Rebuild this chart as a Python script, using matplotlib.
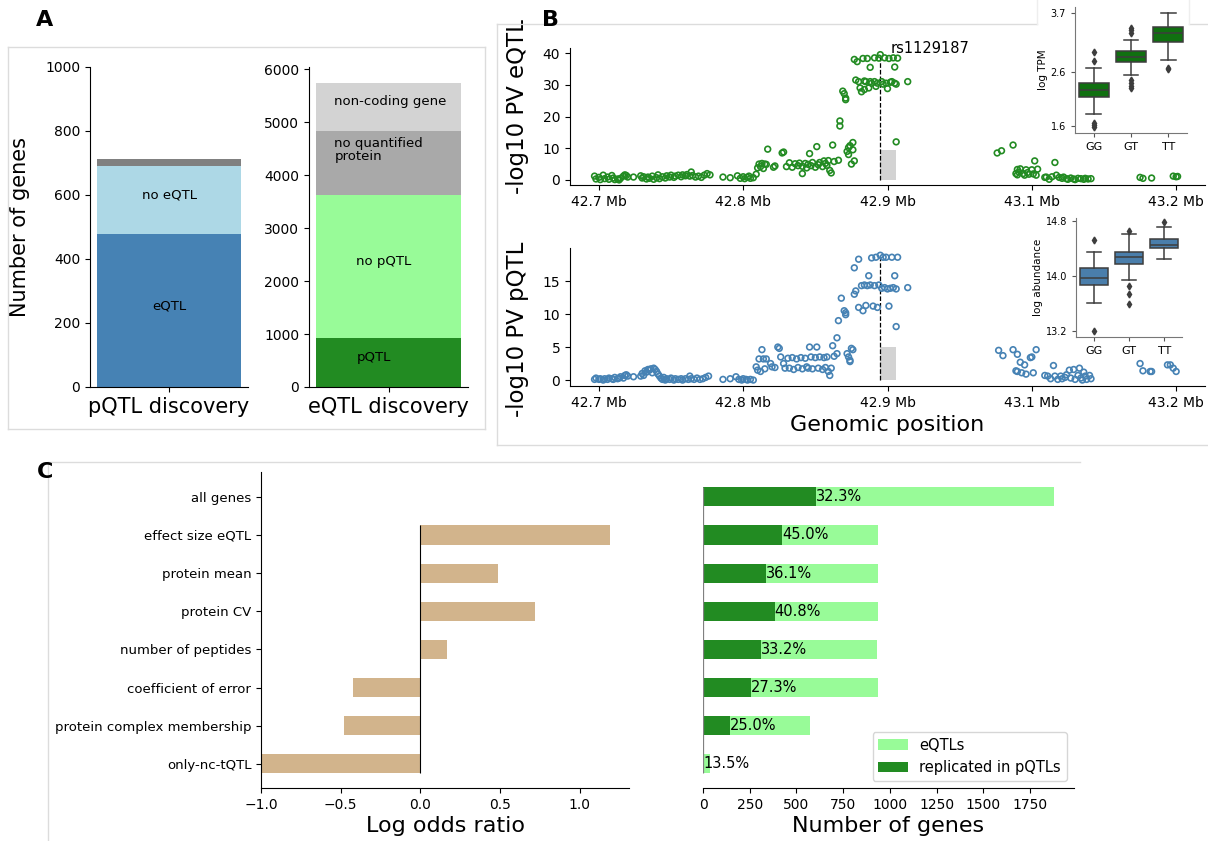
import numpy as np
import matplotlib.pyplot as plt
from matplotlib.lines import Line2D

# ---- panel A: stacked counts ----
pqtl_groups = ['eQTL', 'no eQTL', 'other']
pqtl_counts = [478, 213, 20]
eqtl_groups = ['pQTL', 'no pQTL', 'no quantified\nprotein', 'non-coding gene']
eqtl_counts = [930, 2700, 1210, 900]

# ---- panel B: locus plots (position in Mb, -log10 p) ----
locus_ticks = [42.7, 42.8, 42.9, 43.0, 43.1]
locus_labels = ['42.7 Mb', '42.8 Mb', '42.9 Mb', '43.1 Mb', '43.2 Mb']
lead_snp = 'rs1129187'
lead_pos = 42.895
gene_start, gene_end = 42.895, 42.906

eqtl_pos = [42.697, 42.698, 42.700, 42.701, 42.703, 42.704, 42.706, 42.707, 42.709, 42.710,
            42.711, 42.713, 42.714, 42.715, 42.717, 42.718, 42.719, 42.720, 42.724,
            42.729, 42.730, 42.731, 42.733, 42.734, 42.735, 42.737, 42.738, 42.740, 42.741,
            42.742, 42.744, 42.746, 42.747, 42.749, 42.750, 42.752, 42.753, 42.755, 42.757,
            42.758, 42.760, 42.761, 42.763, 42.764, 42.765, 42.767, 42.769, 42.771, 42.773,
            42.775, 42.777,
            42.786, 42.791, 42.796, 42.798, 42.800, 42.801, 42.803, 42.804, 42.805, 42.807,
            42.809, 42.810, 42.811, 42.812, 42.813, 42.814, 42.815, 42.816, 42.817,
            42.821, 42.822, 42.827, 42.828, 42.830, 42.832, 42.834, 42.836, 42.838, 42.839,
            42.841, 42.841, 42.843, 42.844, 42.845, 42.846, 42.847, 42.848, 42.850, 42.851,
            42.852, 42.853, 42.855, 42.856, 42.857, 42.858, 42.859, 42.860, 42.861, 42.862,
            42.863,
            42.866, 42.867, 42.867, 42.869, 42.870, 42.871, 42.871, 42.872, 42.873, 42.873,
            42.874, 42.875, 42.876, 42.877, 42.876, 42.877, 42.879, 42.878, 42.880, 42.881,
            42.882, 42.883, 42.884, 42.884, 42.885, 42.886, 42.887, 42.888, 42.888, 42.889,
            42.891, 42.891, 42.892, 42.893, 42.894, 42.895,
            42.896, 42.897, 42.898, 42.899, 42.900, 42.901, 42.902, 42.903, 42.904, 42.905,
            42.905, 42.906, 42.906, 42.907, 42.914,
            42.976, 42.979, 42.987,
            42.989, 42.990, 42.990, 42.991, 42.992, 42.994, 42.995, 42.996, 42.997, 42.998,
            43.000, 43.001, 43.002, 43.003, 43.004,
            43.009, 43.010, 43.012, 43.014, 43.016, 43.017, 43.019, 43.021, 43.022, 43.024,
            43.025, 43.027, 43.029, 43.030, 43.032, 43.034, 43.036, 43.037, 43.039, 43.041,
            43.075, 43.077, 43.083, 43.098, 43.100, 43.101]
eqtl_lp = [1.2, 0.3, 0.8, 0.1, 1.5, 0.4, 0.9, 0.2, 1.4, 0.6,
           0.1, 0.3, 0.0, 0.5, 1.2, 1.6, 1.4, 0.9, 0.9,
           1.3, 0.6, 1.0, 0.3, 0.9, 0.5, 1.2, 0.2, 0.7, 1.6,
           0.4, 1.0, 0.6, 1.3, 0.9, 1.5, 0.8, 1.2, 1.5, 1.0,
           1.6, 1.3, 1.7, 1.2, 2.5, 1.4, 0.9, 1.2, 0.8, 1.5,
           2.0, 1.6,
           0.9, 0.7, 1.3, 0.5, 1.0, 0.4, 0.8, 1.2, 0.5, 0.7,
           1.8, 3.8, 5.0, 4.2, 5.2, 3.6, 5.0, 4.9, 9.7,
           4.0, 4.4, 8.5, 8.8, 4.2, 5.4, 4.0, 5.1, 4.5, 5.3,
           2.0, 4.3, 5.2, 3.8, 4.9, 8.3, 4.5, 5.5, 4.0, 10.5,
           4.8, 5.5, 4.2, 6.0, 5.2, 4.6, 6.1, 3.0, 2.2, 11.0,
           5.8,
           6.2, 18.6, 17.0, 28.0, 27.2, 25.8, 25.3, 9.0, 10.2, 8.0,
           10.8, 5.0, 11.8, 6.0, 9.5, 38.0, 37.3, 31.5, 31.0, 29.0,
           27.8, 38.3, 31.2, 28.5, 31.0, 38.3, 29.0, 31.0, 35.5, 30.5,
           38.5, 31.0, 29.5, 30.5, 38.4, 39.5,
           31.0, 30.2, 38.5, 30.5, 28.8, 38.3, 30.8, 31.0, 38.5, 30.5,
           35.6, 12.0, 30.2, 38.4, 31.0,
           8.5, 9.2, 11.0,
           2.0, 3.3, 1.6, 2.5, 3.5, 2.0, 1.5, 3.2, 2.3, 1.8,
           3.2, 1.9, 6.0, 1.5, 3.4,
           0.8, 0.9, 0.2, 1.0, 5.5, 1.5, 0.8, 0.5, 0.9, 0.4,
           0.2, 0.6, 0.3, 0.1, 0.5, 0.4, 0.2, 0.5, 0.3, 0.4,
           0.8, 0.5, 0.6, 1.2, 1.0, 1.1]

pqtl_pos = [42.697, 42.698, 42.700, 42.701, 42.703, 42.704, 42.706, 42.707, 42.709, 42.710,
            42.711, 42.713, 42.714, 42.715, 42.717, 42.718, 42.719, 42.720, 42.724,
            42.729, 42.730, 42.731, 42.732, 42.733, 42.734, 42.735, 42.736, 42.737, 42.738,
            42.739, 42.740, 42.741, 42.742, 42.743, 42.744, 42.745, 42.746, 42.747, 42.749,
            42.750, 42.752, 42.753, 42.755, 42.757, 42.758, 42.760, 42.762, 42.763, 42.764,
            42.766, 42.768, 42.770, 42.772, 42.774, 42.776,
            42.786, 42.791, 42.795, 42.797, 42.799, 42.800, 42.802, 42.803, 42.805, 42.807,
            42.809, 42.810, 42.811, 42.812, 42.813, 42.814, 42.815, 42.816,
            42.819, 42.820, 42.822, 42.824, 42.825, 42.826, 42.828, 42.829, 42.831, 42.832,
            42.834, 42.835, 42.837, 42.838, 42.840, 42.841, 42.843, 42.844, 42.845, 42.846,
            42.847, 42.848, 42.850, 42.851, 42.852, 42.853, 42.855, 42.856, 42.857, 42.858,
            42.859, 42.860, 42.861, 42.862, 42.863,
            42.865, 42.865, 42.866, 42.868, 42.870, 42.871, 42.871, 42.872, 42.873, 42.874,
            42.874, 42.875, 42.876, 42.877, 42.878, 42.877, 42.880, 42.880, 42.882, 42.883,
            42.884, 42.885, 42.886, 42.887, 42.888, 42.889, 42.890, 42.891, 42.892, 42.893,
            42.894, 42.895,
            42.896, 42.897, 42.898, 42.899, 42.900, 42.901, 42.902, 42.903, 42.904, 42.905,
            42.906, 42.906, 42.907, 42.914,
            42.977, 42.980, 42.987, 42.989, 42.990, 42.990, 42.992, 42.993, 42.995, 42.996,
            42.999, 43.000, 43.001, 43.003,
            43.009, 43.011, 43.013, 43.015, 43.016, 43.018, 43.020, 43.021, 43.023, 43.024,
            43.026, 43.027, 43.029, 43.030, 43.032, 43.033, 43.034, 43.035, 43.036, 43.037,
            43.038, 43.040, 43.041,
            43.075, 43.077, 43.082, 43.083, 43.094, 43.096, 43.098, 43.100]
pqtl_lp = [0.1, 0.3, 0.1, 0.2, 0.0, 0.2, 0.1, 0.3, 0.2, 0.1,
           0.4, 0.2, 0.3, 0.5, 0.3, 0.7, 0.8, 0.6, 0.5,
           0.6, 1.0, 0.7, 1.4, 1.2, 1.6, 1.5, 1.7, 1.1, 1.8,
           1.6, 1.3, 0.9, 0.6, 0.3, 0.1, 0.4, 0.0, 0.2, 0.1,
           0.3, 0.0, 0.2, 0.1, 0.2, 0.0, 0.2, 0.1, 0.6, 0.2,
           0.1, 0.3, 0.1, 0.2, 0.4, 0.6,
           0.1, 0.2, 0.5, 0.1, 0.0, 0.2, 0.1, 0.0, 0.1, 0.0,
           2.0, 1.5, 3.2, 1.3, 4.6, 3.2, 1.7, 3.2,
           2.5, 2.0, 1.9, 5.0, 4.8, 3.5, 2.5, 1.8, 3.3, 1.8,
           3.4, 1.6, 3.2, 1.9, 3.4, 1.7, 3.3, 2.0, 1.8, 5.0,
           3.5, 1.7, 3.4, 5.0, 1.8, 3.5, 1.6, 3.4, 1.9, 3.5,
           1.3, 0.7, 1.8, 5.2, 3.6,
           6.4, 4.0, 9.0, 12.4, 10.5, 10.2, 9.9, 4.0, 3.5, 3.0,
           2.8, 4.8, 4.6, 13.0, 13.5, 17.0, 18.3, 11.0, 14.3, 10.5,
           14.4, 11.3, 14.3, 15.8, 14.4, 18.5, 11.2, 14.3, 18.6, 11.0,
           14.4, 18.9,
           13.9, 18.6, 14.0, 18.6, 13.8, 11.2, 13.9, 18.6, 14.0, 15.8,
           13.8, 8.1, 18.6, 14.0,
           4.5, 3.7, 4.6, 1.4, 1.3, 3.9, 2.7, 1.1, 2.3, 0.9,
           3.4, 3.5, 1.1, 4.6,
           0.7, 0.6, 0.2, 2.2, 0.6, 0.1, 0.6, 0.2, 0.4, 0.8,
           1.5, 0.3, 1.6, 0.1, 0.7, 1.8, 0.3, 0.0, 1.2, 0.6,
           0.1, 0.7, 0.2,
           2.5, 1.4, 1.3, 1.3, 2.3, 2.3, 1.8, 1.3]
gene_height_e = 9.5
gene_height_p = 5.0

# ---- panel B insets: genotype boxplots ----
genotypes = ['GG', 'GT', 'TT']
tpm_q1 = [2.13, 2.79, 3.16]
tpm_med = [2.26, 2.89, 3.32]
tpm_q3 = [2.39, 3.00, 3.44]
tpm_lo = [1.82, 2.54, 2.83]
tpm_hi = [2.68, 3.20, 3.69]
tpm_fliers = [[2.98, 2.81, 1.66, 1.62, 1.59], [3.42, 3.38, 3.33, 2.45, 2.40, 2.35, 2.30], [2.68, 2.65]]
ab_q1 = [13.86, 14.17, 14.40]
ab_med = [13.97, 14.28, 14.45]
ab_q3 = [14.12, 14.35, 14.54]
ab_lo = [13.61, 13.94, 14.25]
ab_hi = [14.34, 14.61, 14.71]
ab_fliers = [[14.52, 13.20], [14.65, 13.85, 13.74, 13.59], [14.78]]

# ---- panel C ----
features = ['all genes', 'effect size eQTL', 'protein mean', 'protein CV',
            'number of peptides', 'coefficient of error', 'protein complex membership',
            'only-nc-tQTL']
log_odds = [0.0, 1.19, 0.49, 0.72, 0.17, -0.42, -0.48, -1.0]
n_eqtl = [1878, 939, 939, 939, 932, 939, 574, 37]
pct_replicated = [32.3, 45.0, 36.1, 40.8, 33.2, 27.3, 25.0, 13.5]

W, H = 1208, 841
fig = plt.figure(figsize=(W / 100, H / 100), dpi=100)


def rect(l, t, r, b):
    return [l / W, 1 - b / H, (r - l) / W, (b - t) / H]


def fline(x0, y0, x1, y1, c='#dcdcdc'):
    fig.add_artist(Line2D([x0 / W, x1 / W], [1 - y0 / H, 1 - y1 / H], color=c, lw=1))


def despine(ax):
    ax.spines['top'].set_visible(False)
    ax.spines['right'].set_visible(False)


# frames round the panels
fline(8, 47, 485, 47); fline(8, 47, 8, 429); fline(485, 47, 485, 429); fline(8, 429, 485, 429)
fline(497, 24, 1037, 24); fline(1189, 24, 1208, 24); fline(497, 24, 497, 445); fline(497, 445, 1208, 445)
fline(1037, 0, 1037, 24, '#eeeeee'); fline(1189, 0, 1189, 24, '#eeeeee')
fline(48, 462, 1080, 462); fline(48, 462, 48, 841)

for lab, x, y in [('A', 45, 20), ('B', 550, 20), ('C', 45, 472)]:
    fig.text(x / W, 1 - y / H, lab, fontsize=16, fontweight='bold', ha='center', va='center')

# ---- A ----
axa = fig.add_axes(rect(90, 67, 248, 387))
bottom = 0
for v, c in zip(pqtl_counts, ['steelblue', 'lightblue', 'gray']):
    axa.bar(0, v, bottom=bottom, width=0.8, color=c)
    bottom += v
axa.text(0, 600, 'no eQTL', ha='center', va='center', fontsize=9.5)
axa.text(0, 253, 'eQTL', ha='center', va='center', fontsize=9.5)
axa.set_xlim(-0.44, 0.44)
axa.set_ylim(0, 1000)
axa.set_xticks([0], ['pQTL discovery'], fontsize=15)
axa.tick_params(axis='y', labelsize=10)
axa.set_ylabel('Number of genes', fontsize=15)
axa.yaxis.set_label_coords(-0.38, 0.5)
despine(axa)

axb = fig.add_axes(rect(309, 67, 468, 387))
bottom = 0
for v, c in zip(eqtl_counts, ['forestgreen', 'palegreen', 'darkgray', 'lightgray']):
    axb.bar(0, v, bottom=bottom, width=0.8, color=c)
    bottom += v
axb.text(-0.3, 5396, 'non-coding gene', ha='left', va='center', fontsize=9.5)
axb.text(-0.3, 4472, 'no quantified\nprotein', ha='left', va='center', fontsize=9.5, linespacing=1.0)
axb.text(-0.178, 2364, 'no pQTL', ha='left', va='center', fontsize=9.5)
axb.text(-0.178, 566, 'pQTL', ha='left', va='center', fontsize=9.5)
axb.set_xlim(-0.44, 0.44)
axb.set_ylim(0, 6040)
axb.set_xticks([0], ['eQTL discovery'], fontsize=15)
axb.tick_params(axis='y', labelsize=10)
despine(axb)

# ---- B ----
loci = [
    (rect(570, 48, 1205, 185), eqtl_pos, eqtl_lp, 'forestgreen', gene_height_e,
     (-1.6, 41.6), [0, 10, 20, 30, 40], '-log10 PV eQTL', 0.57),
    (rect(570, 248, 1205, 386), pqtl_pos, pqtl_lp, 'steelblue', gene_height_p,
     (-0.9, 20), [0, 5, 10, 15], '-log10 PV pQTL', 0.41),
]
locus_axes = []
for r, xs, ys, col, gh, yl, yt, ylab, ly in loci:
    ax = fig.add_axes(r)
    ax.bar(gene_start, gh, width=gene_end - gene_start, align='edge', color='lightgray', zorder=1)
    ax.scatter(xs, ys, s=17, facecolors='none', edgecolors=col, linewidths=1.2, zorder=3)
    ax.vlines(lead_pos, 0, max(ys), colors='k', linestyles='--', lw=0.9, zorder=2)
    ax.set_xlim(42.68, 43.12)
    ax.set_ylim(*yl)
    ax.set_yticks(yt)
    ax.set_xticks(locus_ticks, locus_labels)
    ax.tick_params(labelsize=10)
    ax.set_ylabel(ylab, fontsize=16.5)
    ax.yaxis.set_label_coords(-0.064, ly)
    despine(ax)
    locus_axes.append(ax)
locus_axes[0].text(lead_pos + 0.0075, 41.3, lead_snp, fontsize=10.5, ha='left', va='center')
locus_axes[1].set_xlabel('Genomic position', fontsize=16)

insets = [
    (rect(1075, 7, 1187, 133), tpm_q1, tpm_med, tpm_q3, tpm_lo, tpm_hi, tpm_fliers,
     '#107010', (1.47, 3.81), [1.6, 2.6, 3.7], 'log TPM'),
    (rect(1076, 218, 1182, 337), ab_q1, ab_med, ab_q3, ab_lo, ab_hi, ab_fliers,
     '#4a7eab', (13.11, 14.84), [13.2, 14.0, 14.8], 'log abundance'),
]
for r, q1, med, q3, lo, hi, fl, col, yl, yt, ylab in insets:
    ax = fig.add_axes(r)
    stats = [dict(q1=a, med=m, q3=b, whislo=w0, whishi=w1, fliers=f)
             for a, m, b, w0, w1, f in zip(q1, med, q3, lo, hi, fl)]
    gc = '#3d3d3d'
    ax.bxp(stats, positions=range(3), widths=0.8, patch_artist=True,
           boxprops=dict(facecolor=col, edgecolor=gc, lw=1.1),
           medianprops=dict(color=gc, lw=1.1), whiskerprops=dict(color=gc, lw=1.1),
           capprops=dict(color=gc, lw=1.1),
           flierprops=dict(marker='d', markerfacecolor=gc, markeredgecolor=gc, markersize=3.5))
    ax.set_xlim(-0.5, 2.5)
    ax.set_ylim(*yl)
    ax.set_yticks(yt)
    ax.set_xticks(range(3), genotypes)
    ax.tick_params(labelsize=7, length=3, color='#555555')
    ax.tick_params(axis='x', labelsize=8)
    ax.set_ylabel(ylab, fontsize=7.5, labelpad=2)
    for s in ['left', 'bottom']:
        ax.spines[s].set_color('#777777')
    despine(ax)

# ---- C ----
ypos = np.arange(len(features))
axl = fig.add_axes(rect(261, 472, 629, 788))
axl.barh(ypos, log_odds, height=0.5, color='tan')
axl.vlines(0, 0.75, 7.25, colors='k', lw=0.8)
axl.set_yticks(ypos, features)
axl.set_ylim(7.63, -0.65)
axl.set_xlim(-1.0, 1.31)
axl.set_xticks([-1.0, -0.5, 0.0, 0.5, 1.0])
axl.tick_params(labelsize=10)
axl.tick_params(axis='y', labelsize=9.5)
axl.set_xlabel('Log odds ratio', fontsize=16, labelpad=3)
despine(axl)

replicated = [n * p / 100 for n, p in zip(n_eqtl, pct_replicated)]
axr = fig.add_axes(rect(703, 472, 1074, 788))
axr.barh(ypos, n_eqtl, height=0.5, color='palegreen', label='eQTLs')
axr.barh(ypos, replicated, height=0.5, color='forestgreen', label='replicated in pQTLs')
for y, r, p in zip(ypos, replicated, pct_replicated):
    axr.text(r, y, f'{p:.1f}%', ha='left', va='center', fontsize=10.5)
axr.vlines(0, -0.25, 7.25, colors='gray', lw=0.9)
axr.set_yticks([])
axr.set_ylim(7.63, -0.65)
axr.set_xlim(0, 1986)
axr.set_xticks(range(0, 2000, 250))
axr.tick_params(labelsize=10)
axr.set_xlabel('Number of genes', fontsize=16, labelpad=3)
axr.spines['left'].set_visible(False)
despine(axr)
axr.legend(loc='lower right', fontsize=10.5)

fig.savefig('out.png', dpi=100)
